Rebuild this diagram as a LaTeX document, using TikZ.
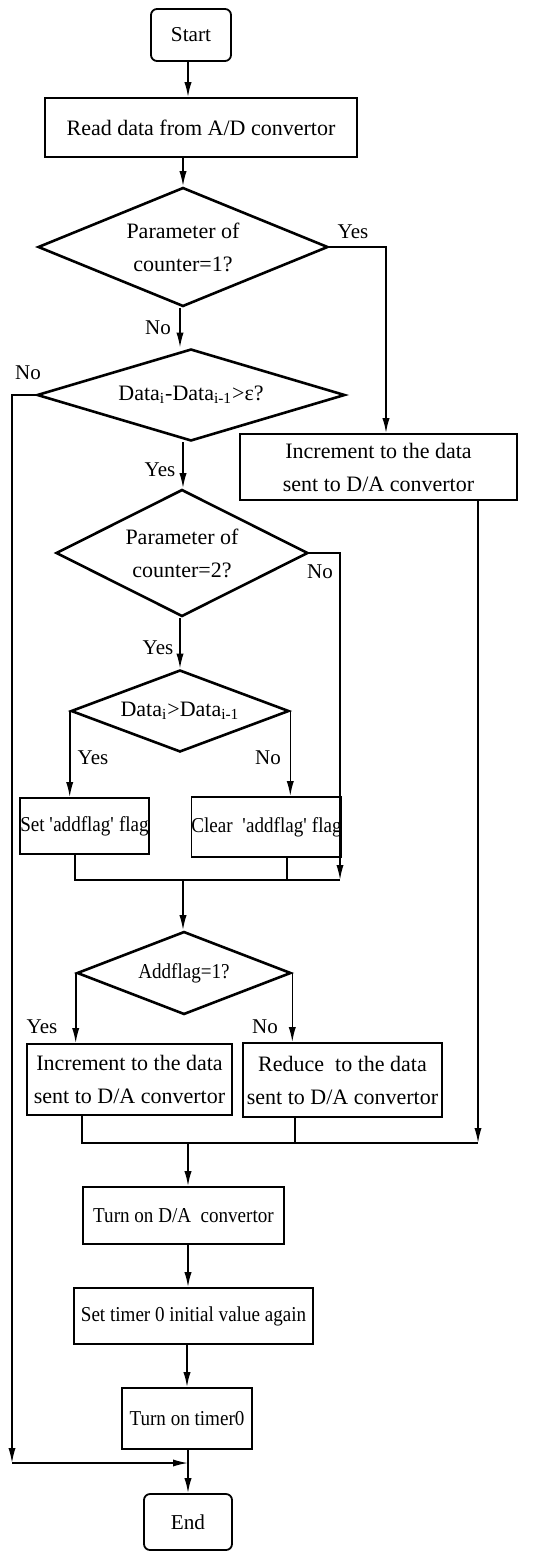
\documentclass[tikz,border=0pt]{standalone}
\usepackage{fontspec}
\setmainfont{Liberation Serif}
\newfontfamily\narrowfont[FakeStretch=0.9]{Liberation Serif}
\usepackage{tikz}
\usetikzlibrary{positioning,shapes.geometric,arrows.meta}

\begin{document}
\begin{tikzpicture}[
		x=0.5pt, y=-0.5pt
		,font=\fontsize{10.5}{16.5}\selectfont
		,big/.style={font=\fontsize{11}{16.5}\selectfont}
		,small/.style={font=\narrowfont\fontsize{10.6}{13}\selectfont}
		,term/.style={draw, rounded corners=3pt, line width=0.9pt, inner sep=0pt, font=\fontsize{10.6}{13}\selectfont}
		,proc/.style={draw, line width=0.9pt, inner sep=0pt, align=center}
		,dec/.style={draw, diamond, line width=1.3pt, inner sep=0pt}
		,txt/.style={label={[align=center, big]center:#1}}
		,arr/.style={line width=0.8pt, -{Latex[length=7.5pt,width=3.6pt]}}
		,ln/.style={line width=0.8pt}
		,lbl/.style={inner sep=0pt}
	]
		\useasboundingbox (0,0) rectangle (551,1552);

		% boxes
		\node[term, minimum width=40pt, minimum height=26pt] (start) at (191,35) {Start};
		\node[proc, big, minimum width=156pt, minimum height=29.5pt] (read) at (201,127.5) {Read data from A/D convertor};
		\node[dec, minimum width=145pt, minimum height=59.5pt, txt={Parameter of\\counter=1?}] (d1) at (183,247) {};
		\node[dec, minimum width=154pt, minimum height=46pt, txt={Data\textsubscript{i}-Data\textsubscript{i-1}>ε?}] (d2) at (191,395) {};
		\node[proc, big, minimum width=138.5pt, minimum height=33pt] (inc1) at (378.5,467) {Increment to the data\\sent to D/A convertor};
		\node[dec, minimum width=126pt, minimum height=63.5pt, txt={Parameter of\\counter=2?}] (d3) at (182,553) {};
		\node[dec, minimum width=109pt, minimum height=41pt, txt={Data\textsubscript{i}>Data\textsubscript{i-1}}] (d4) at (180,711) {};
		\node[proc, small, minimum width=63.5pt, minimum height=28pt] (set) at (84.5,826) {Set \textquotesingle addflag\textquotesingle{} flag};
		\node[proc, small, minimum width=70.5pt, minimum height=30pt] (clear) at (266.5,827) {Clear\ \ \textquotesingle addflag\textquotesingle{} flag};
		\node[dec, minimum width=107pt, minimum height=41.5pt, label={[small]center:Addflag=1?}] (d5) at (184,973) {};
		\node[proc, big, minimum width=102.5pt, minimum height=35.5pt] (inc2) at (129.5,1079.5) {Increment to the data\\sent to D/A convertor};
		\node[proc, big, minimum width=99.5pt, minimum height=37pt] (reduce) at (342.5,1080) {Reduce\ \ to the data\\sent to D/A convertor};
		\node[proc, small, minimum width=100.5pt, minimum height=28.5pt] (dacon) at (183.5,1215.5) {Turn on D/A\ \ convertor};
		\node[proc, small, minimum width=119.5pt, minimum height=28pt] (tval) at (193.5,1316) {Set timer 0 initial value again};
		\node[proc, small, minimum width=65pt, minimum height=30.5pt] (tzero) at (187,1418.5) {Turn on timer0};
		\node[term, minimum width=44pt, minimum height=28pt] (end) at (188,1522) {End};

		% joints
		\coordinate (lft) at (12,1463);
		\coordinate (jend) at (188,1463);
		\coordinate (m1) at (340,880);
		\coordinate (m2) at (478,1143);

		% labels
		\node[lbl] (y1) at (353,232) {Yes};
		\node[lbl] (n1) at (158,328) {No};
		\node[lbl] (n2) at (28,373) {No};
		\node[lbl] (y2) at (160,470) {Yes};
		\node[lbl] (n3) at (320,572) {No};
		\node[lbl] (y3) at (158,648) {Yes};
		\node[lbl] (y4) at (93,758) {Yes};
		\node[lbl] (n4) at (268,758) {No};
		\node[lbl] (y5) at (42,1027) {Yes};
		\node[lbl] (n5) at (265,1027) {No};

		% connectors
		\draw[arr] (start.south -| 188,0) -- (read.north -| 188,0);
		\draw[arr] (read.south -| d1.north) -- (d1.north);
		\draw[arr] (d1.east) -| (inc1.north -| 386,0);
		\draw[arr] (d1.south -| 180,0) -- (d2.north -| 180,0);
		\draw[arr] (d2.west) -| (lft);
		\draw[arr] (lft) -- (jend);
		\draw[arr] (d2.south -| 183,0) -- (d3.north -| 183,0);
		\draw[arr] (d3.east) -| (m1);
		\draw[arr] (d3.south -| 180,0) -- (d4.north);
		\draw[arr] (d4.west) -- (d4.west |- set.north);
		\draw[arr] (d4.east) -- (d4.east |- clear.north);
		\draw[ln] (set.south -| 75,0) |- (m1);
		\draw[ln] (clear.south -| 287,0) -- (287,0 |- m1);
		\draw[arr] (183,0 |- m1) -- (d5.north -| 183,0);
		\draw[arr] (d5.west) -- (d5.west |- inc2.north);
		\draw[arr] (d5.east) -- (d5.east |- reduce.north);
		\draw[arr] (inc1.south -| m2) -- (m2);
		\draw[ln] (inc2.south -| 82,0) |- (m2);
		\draw[ln] (reduce.south -| 295,0) -- (295,0 |- m2);
		\draw[arr] (188,0 |- m2) -- (dacon.north -| 188,0);
		\draw[arr] (dacon.south -| 188,0) -- (tval.north -| 188,0);
		\draw[arr] (tval.south -| 187,0) -- (tzero.north -| 187,0);
		\draw[arr] (tzero.south -| 188,0) -- (end.north -| 188,0);
	\end{tikzpicture}
\end{document}
